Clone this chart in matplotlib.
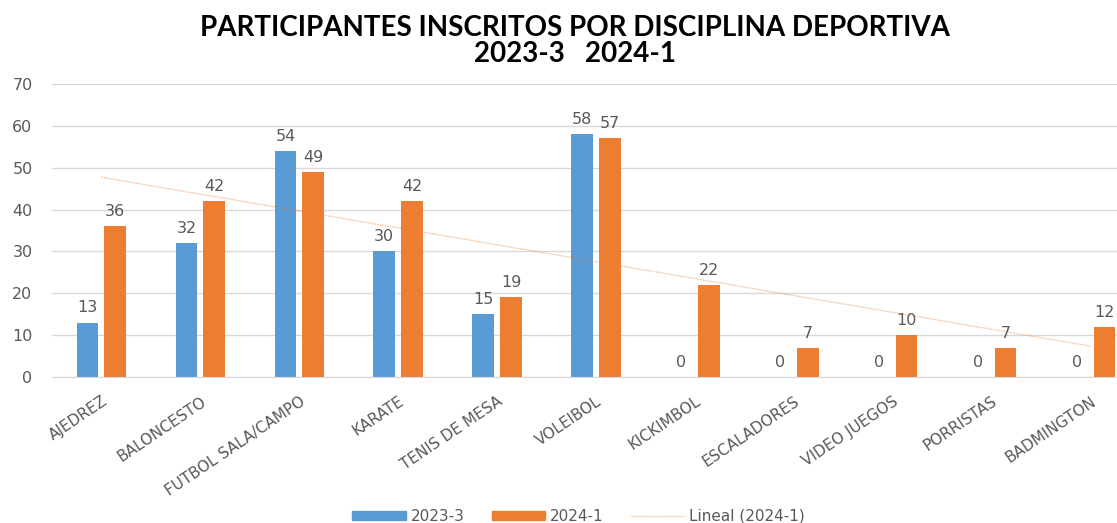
import numpy as np
import matplotlib
matplotlib.use('Agg')
import matplotlib.pyplot as plt
from matplotlib.lines import Line2D
from matplotlib.patches import Patch

categories = ['AJEDREZ', 'BALONCESTO', 'FUTBOL SALA/CAMPO', 'KARATE',
              'TENIS DE MESA', 'VOLEIBOL', 'KICKIMBOL', 'ESCALADORES',
              'VIDEO JUEGOS', 'PORRISTAS', 'BADMINGTON']
values_2023 = [13, 32, 54, 30, 15, 58, 0, 0, 0, 0, 0]
values_2024 = [36, 42, 49, 42, 19, 57, 22, 7, 10, 7, 12]
y_ticks = [0, 10, 20, 30, 40, 50, 60, 70]

BLUE = '#5b9bd5'
ORANGE = '#ed7d31'
GRAY = '#595959'
GRID = '#d9d9d9'

fig = plt.figure(figsize=(11.17, 5.23), dpi=100)
ax = fig.add_axes([52 / 1117, 1 - 377 / 523, 1088 / 1117, 293 / 523])

x = np.arange(len(categories))
w = 0.22
off = 0.14
ax.bar(x - off, values_2023, w, color=BLUE, zorder=2)
ax.bar(x + off, values_2024, w, color=ORANGE, zorder=2)

for xi, v in zip(x, values_2023):
    ax.text(xi - off, v + 1.7, str(v), ha='center', va='bottom',
            fontsize=11.5, color=GRAY)
for xi, v in zip(x, values_2024):
    ax.text(xi + off, v + 1.7, str(v), ha='center', va='bottom',
            fontsize=11.5, color=GRAY)

# linear trend of 2024-1
slope, icpt = np.polyfit(x, values_2024, 1)
ax.plot(x, slope * x + icpt, color=ORANGE, linestyle=(0, (1, 1)),
        linewidth=0.9, alpha=0.6, zorder=3)

ax.set_xlim(-0.5, len(categories) - 0.5)
ax.set_ylim(0, 70)
ax.set_yticks(y_ticks)
ax.yaxis.grid(True, color=GRID, linewidth=1)
ax.set_axisbelow(True)
for s in ['top', 'right', 'left']:
    ax.spines[s].set_visible(False)
ax.spines['bottom'].set_color(GRID)
ax.tick_params(axis='both', length=0, colors=GRAY)
ax.tick_params(axis='y', pad=14, labelsize=11.5)
ax.tick_params(axis='x', pad=12)
ax.set_xticks(x)
ax.set_xticklabels(categories, rotation=34, ha='right',
                   rotation_mode='anchor', fontsize=11, color=GRAY)

fig.text(0.515, 0.946, 'PARTICIPANTES INSCRITOS POR DISCIPLINA DEPORTIVA',
         ha='center', va='center', fontsize=20, fontweight='bold',
         family='Lato', color='black')
fig.text(0.515, 0.897, '2023-3   2024-1', ha='center', va='center',
         fontsize=20, fontweight='bold', family='Lato', color='black')

handles = [Patch(color=BLUE, label='2023-3'),
           Patch(color=ORANGE, label='2024-1'),
           Line2D([0], [0], color=ORANGE, linestyle=(0, (1, 1)),
                  linewidth=0.9, alpha=0.6, label='Lineal (2024-1)')]
leg = fig.legend(handles=handles, loc='center', bbox_to_anchor=(0.518, 0.013),
                 ncol=3, frameon=False, fontsize=11, handlelength=3.5,
                 handleheight=0.5, handletextpad=0.3, columnspacing=1.8)
for t in leg.get_texts():
    t.set_color(GRAY)

fig.savefig('out.png', dpi=100)
